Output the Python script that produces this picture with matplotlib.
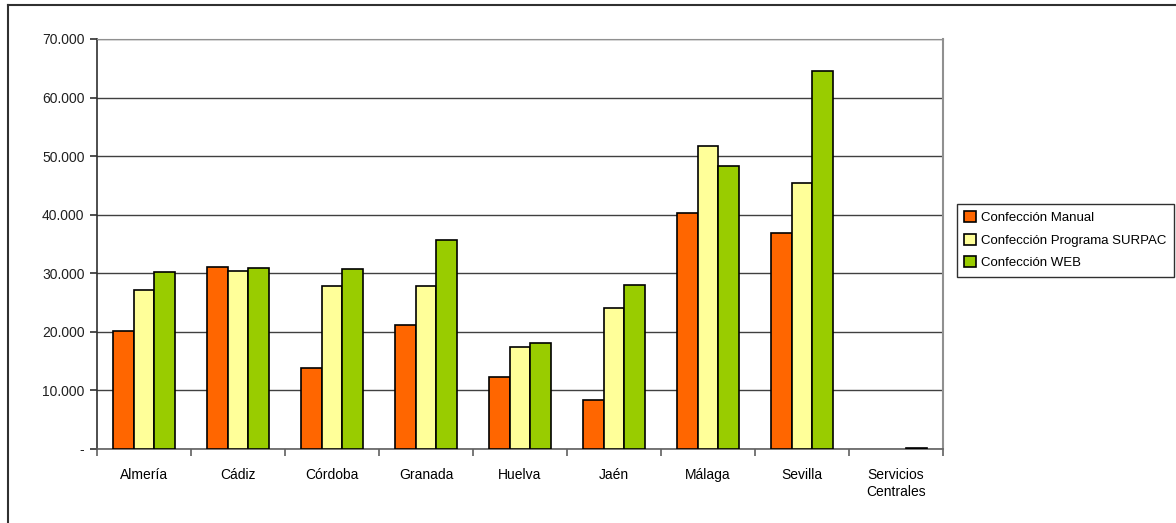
import matplotlib
matplotlib.use('Agg')
import matplotlib.pyplot as plt
import numpy as np
from matplotlib.lines import Line2D

# data
provincias = ['Almería', 'Cádiz', 'Córdoba', 'Granada', 'Huelva', 'Jaén',
              'Málaga', 'Sevilla', 'Servicios\nCentrales']
manual = [20100, 31100, 13800, 21100, 12300, 8400, 40300, 36900, 0]
surpac = [27100, 30400, 27900, 27900, 17400, 24100, 51700, 45500, 0]
web = [30300, 30900, 30700, 35600, 18100, 28000, 48400, 64600, 200]
yticks = [0, 10000, 20000, 30000, 40000, 50000, 60000, 70000]
ylabels = ['-', '10.000', '20.000', '30.000', '40.000', '50.000', '60.000', '70.000']

plt.rcParams['font.family'] = ['Liberation Sans', 'DejaVu Sans']
plt.rcParams['font.size'] = 10

fig = plt.figure(figsize=(11.76, 5.23), dpi=100)
ax = fig.add_axes([97/1176, 1 - 449/523, (943-97)/1176, (449-39)/523])

x = np.arange(len(provincias)) + 0.5
w = 0.22
series = [(manual, '#FF6600', 'Confección Manual'),
          (surpac, '#FFFF99', 'Confección Programa SURPAC'),
          (web, '#99CC00', 'Confección WEB')]
for k, (vals, col, lab) in enumerate(series):
    bars = ax.bar(x + (k - 1) * w, vals, width=w, color=col, edgecolor='black',
                  linewidth=1.2, label=lab, zorder=3)
    for b, v in zip(bars, vals):
        if v == 0:
            b.set_linewidth(0)

ax.set_xlim(0, len(provincias))
ax.set_ylim(0, 70000)
ax.set_yticks(yticks)
ax.set_yticklabels(ylabels)
ax.yaxis.grid(True, color='#404040', linewidth=1, zorder=0)

# category labels between boundary ticks
ax.set_xticks(np.arange(len(provincias) + 1))
ax.set_xticklabels([])
ax.set_xticks(x, minor=True)
ax.set_xticklabels(provincias, minor=True)
ax.tick_params(axis='x', which='minor', length=0, pad=14)
ax.tick_params(axis='x', which='major', length=5, color='#606060', width=1.2)
ax.tick_params(axis='y', length=5, color='#303030', width=1.2, pad=4)
ax.tick_params(axis='both', labelcolor='#202020')

ax.spines['left'].set_color('#303030')
ax.spines['left'].set_linewidth(1.2)
ax.spines['bottom'].set_color('#606060')
ax.spines['bottom'].set_linewidth(1.2)
ax.spines['top'].set_color('#909090')
ax.spines['right'].set_color('#909090')
ax.spines['right'].set_linewidth(1.5)

leg = fig.legend(loc='upper left', bbox_to_anchor=(957/1176, 1 - 204/523),
                 frameon=True, fancybox=False, framealpha=1, edgecolor='#303030',
                 handlelength=0.9, handleheight=0.9, handletextpad=0.4,
                 labelspacing=0.72, borderpad=0.55, borderaxespad=0, fontsize=9.5)
leg.get_frame().set_linewidth(1.0)

# outer chart border (top and left visible)
fig.add_artist(Line2D([7.5/1176, 1], [1 - 4.5/523, 1 - 4.5/523], color='#303030', lw=1.5))
fig.add_artist(Line2D([7.5/1176, 7.5/1176], [1 - 4.5/523, 0.002], color='#303030', lw=1.5))

fig.savefig('out.png', dpi=100)
